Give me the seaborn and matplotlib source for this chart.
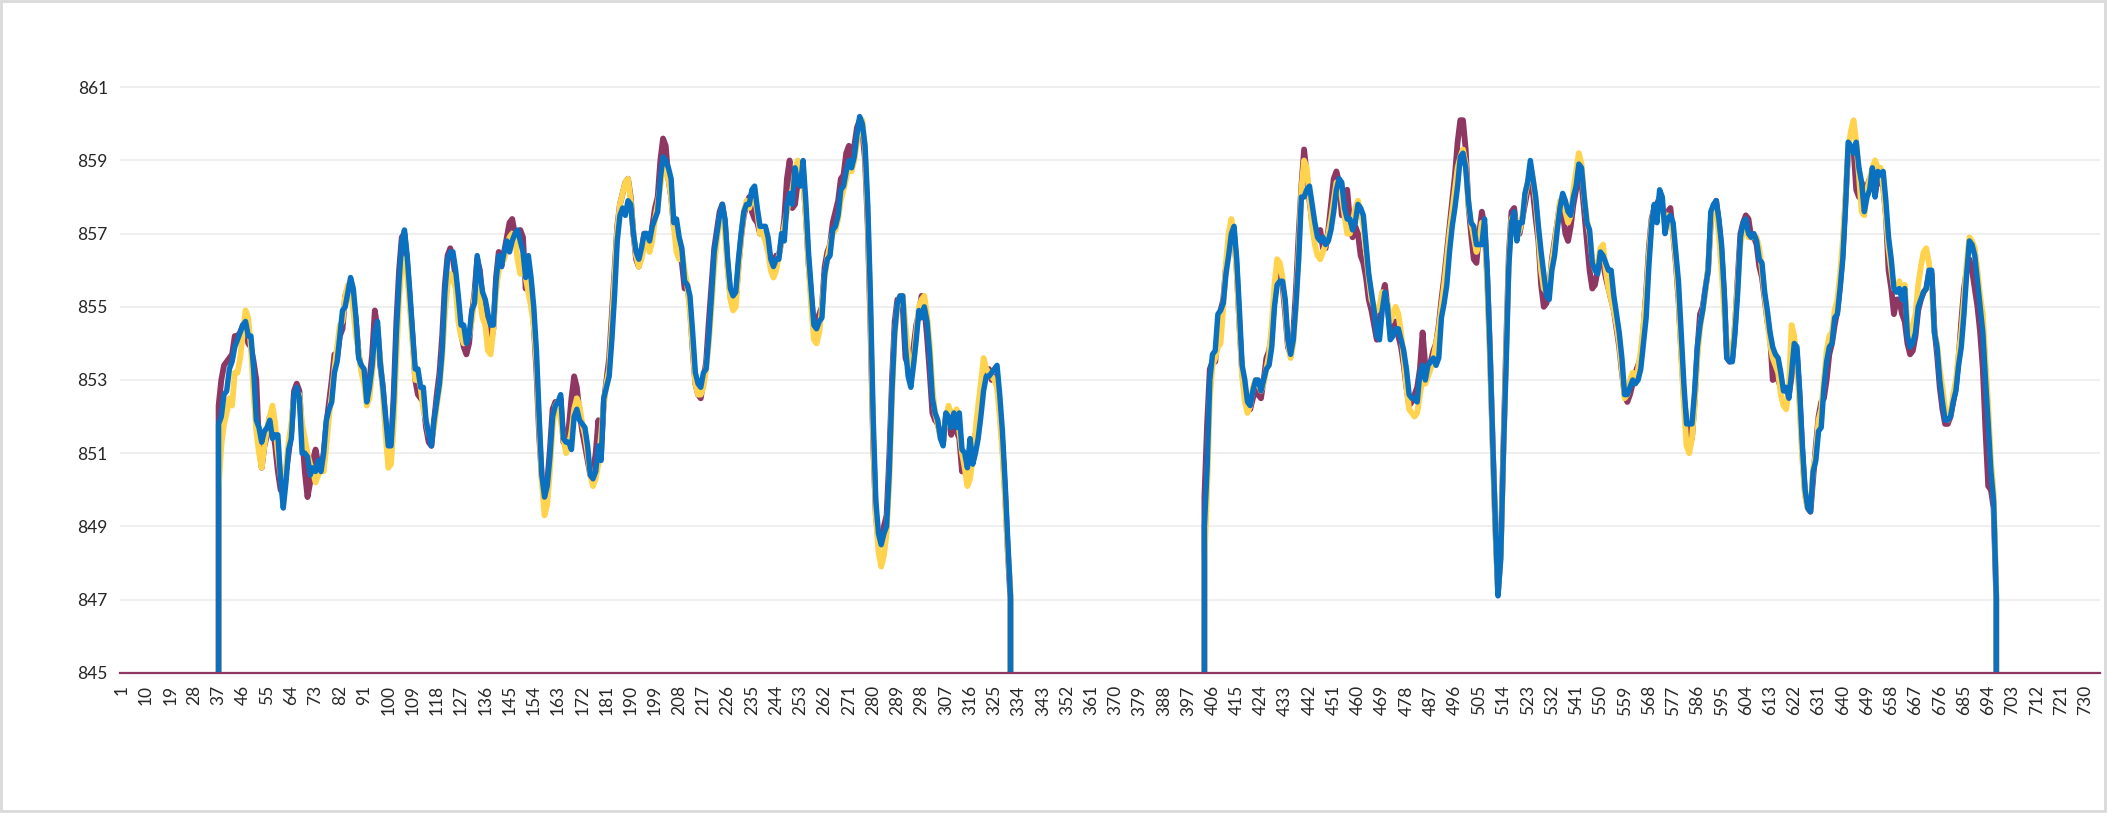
import matplotlib
matplotlib.use("Agg")
import matplotlib.pyplot as plt
import pandas as pd
import seaborn as sns
from matplotlib.patches import Rectangle

# values for rows 37..331 (first block) and 403..697 (second block), 0 elsewhere
maroon_a = [
    852.3, 853.0, 853.4, 853.5, 853.6, 853.7, 854.2, 854.2, 854.3, 854.5,
    854.3, 854.0, 853.9, 853.5, 853.0, 851.2, 850.6, 851.2, 851.5, 852.0,
    851.7, 851.2, 850.5, 850.0, 849.9, 850.5, 851.0, 851.6, 852.7, 852.9,
    852.7, 851.5, 850.5, 849.8, 850.2, 850.8, 851.1, 850.7, 850.5, 851.0,
    851.8, 852.4, 853.0, 853.7, 853.6, 854.2, 854.4, 855.3, 855.5, 855.6,
    855.2, 854.6, 853.7, 853.3, 853.1, 852.5, 853.0, 853.7, 854.9, 854.4,
    853.4, 852.8, 851.8, 851.0, 851.1, 852.6, 854.6, 856.0, 856.9, 857.0,
    856.2, 855.2, 854.2, 853.0, 852.6, 852.5, 852.4, 851.7, 851.3, 851.2,
    851.9, 852.6, 853.2, 854.2, 855.6, 856.4, 856.6, 856.3, 855.8, 855.0,
    854.3, 853.9, 853.7, 854.0, 854.8, 855.4, 856.3, 856.0, 855.2, 854.8,
    854.3, 854.0, 854.4, 855.8, 856.5, 856.1, 856.5, 856.9, 857.3, 857.4,
    857.0, 856.8, 857.1, 856.9, 855.5, 856.1, 855.6, 854.5, 853.2, 851.5,
    850.3, 849.9, 850.2, 851.1, 852.2, 852.4, 852.2, 852.5, 851.3, 851.5,
    851.7, 852.5, 853.1, 852.8, 852.1, 851.6, 851.2, 850.8, 850.4, 850.5,
    851.0, 851.9, 851.0, 852.4, 853.0, 853.6, 854.8, 856.0, 857.2, 857.8,
    858.1, 858.4, 858.5, 858.0, 857.0, 856.3, 856.1, 856.5, 857.0, 857.0,
    856.6, 857.2, 857.7, 858.0, 859.0, 859.6, 859.4, 858.5, 858.0, 857.2,
    857.0, 856.6, 856.2, 855.5, 855.6, 855.0, 853.8, 852.9, 852.6, 852.5,
    853.0, 853.5, 854.6, 855.6, 856.6, 857.1, 857.6, 857.8, 857.3, 856.1,
    855.3, 855.0, 855.2, 856.1, 856.9, 857.5, 857.8, 858.0, 857.6, 857.4,
    857.3, 857.0, 857.0, 856.9, 856.7, 856.2, 856.2, 856.4, 856.4, 856.8,
    857.4, 858.5, 859.0, 857.7, 857.8, 858.4, 858.8, 858.6, 857.5, 856.2,
    855.3, 854.5, 854.6, 854.8, 855.0, 856.1, 856.5, 856.7, 857.3, 857.6,
    857.9, 858.5, 858.6, 859.2, 859.4, 859.0, 859.4, 859.9, 860.1, 859.8,
    859.0, 857.2, 854.5, 851.3, 849.3, 848.6, 848.5, 849.0, 849.3, 850.9,
    853.0, 854.6, 855.2, 855.2, 855.0, 853.6, 853.4, 853.6, 853.9, 854.5,
    854.8, 855.3, 855.0, 854.2, 853.2, 852.1, 851.9, 851.8, 851.5, 851.3,
    852.0, 852.1, 851.5, 852.0, 851.6, 851.4, 850.5, 850.9, 850.8, 850.6,
    850.9, 851.5, 852.0, 852.5, 852.9, 853.2, 853.3, 853.0, 853.1, 853.0,
    852.2, 851.2, 849.9, 848.3, 847.0,
]
yellow_a = [
    850.0, 851.2, 851.8, 852.1, 852.5, 852.3, 853.2, 853.2, 853.6, 854.3,
    854.9, 854.7, 853.9, 852.6, 851.6, 851.0, 850.6, 851.2, 851.7, 852.0,
    852.3, 851.8, 851.0, 850.4, 849.9, 850.6, 851.3, 851.8, 852.5, 852.6,
    852.6, 851.8, 851.4, 851.0, 850.7, 850.5, 850.2, 850.4, 850.6, 850.5,
    851.2, 852.0, 852.6, 853.3, 853.9, 854.5, 854.6, 855.3, 855.6, 855.5,
    854.9, 854.2, 853.8, 853.2, 852.9, 852.3, 852.5, 853.2, 853.9, 854.4,
    853.6, 852.6, 851.5, 850.6, 850.7, 851.8, 853.6, 855.2, 856.2, 856.3,
    855.9, 855.0, 854.0, 853.0, 853.1, 852.8, 852.2, 851.9, 851.5, 851.4,
    851.7, 852.3, 852.8, 853.6, 854.8, 855.6, 855.9, 855.8, 855.5, 854.6,
    854.2, 854.0, 854.2, 854.2, 854.6, 855.3, 855.8, 855.2, 854.7, 854.5,
    853.8, 853.7, 854.4, 855.4, 856.0, 856.2, 856.3, 856.6, 856.9, 857.0,
    856.9, 856.3, 855.9, 856.4, 855.8, 855.4, 855.0, 854.5, 853.5, 851.8,
    850.2, 849.3, 849.6, 850.5, 851.7, 852.3, 852.4, 851.9, 851.4, 851.0,
    851.2, 851.6, 852.2, 852.5, 852.3, 851.8, 851.5, 851.0, 850.4, 850.1,
    850.3, 850.7, 851.5, 852.3, 852.9, 853.3, 854.5, 855.8, 857.1, 857.8,
    858.1, 858.4, 858.5, 857.9, 857.0, 856.4, 856.1, 856.3, 856.7, 857.0,
    856.5, 856.8, 857.4, 857.8, 858.3, 858.8, 858.7, 858.5, 858.0, 857.2,
    856.5, 856.3, 856.5, 856.0, 855.6, 854.8, 853.9, 852.9, 852.6, 852.6,
    852.8, 853.3, 854.0, 855.0, 856.1, 856.8, 857.4, 857.7, 857.0, 856.0,
    855.2, 854.9, 855.0, 856.0, 856.9, 857.6, 857.9, 857.7, 858.0, 858.0,
    857.6, 857.0, 857.0, 856.8, 856.5, 856.0, 855.8, 856.0, 856.4, 856.8,
    857.2, 857.6, 858.0, 858.2, 858.7, 859.0, 858.7, 858.4, 857.5, 856.2,
    855.0, 854.1, 854.0, 854.3, 855.0, 855.8, 856.3, 856.7, 857.0, 857.1,
    857.4, 857.9, 858.2, 858.5, 858.9, 858.7, 859.0, 859.5, 860.0, 860.1,
    859.3, 857.5, 854.8, 851.5, 849.3, 848.3, 847.9, 848.2, 848.8, 850.2,
    852.5, 854.2, 855.0, 855.3, 855.3, 854.5, 853.7, 853.2, 853.5, 854.3,
    855.0, 855.2, 855.3, 854.8, 854.0, 852.8, 852.1, 851.8, 851.4, 851.3,
    851.9, 852.3, 852.1, 851.8, 852.2, 851.6, 851.0, 850.6, 850.1, 850.3,
    850.9, 851.6, 852.3, 852.9, 853.6, 853.3, 853.2, 853.1, 853.0, 852.8,
    852.0, 851.0, 849.7, 848.3, 847.3,
]
blue_a = [
    851.8, 852.0, 852.6, 852.7, 853.3, 853.5, 853.9, 854.1, 854.3, 854.5,
    854.6, 854.2, 854.2, 853.3, 851.9, 851.7, 851.3, 851.6, 851.7, 851.9,
    851.4, 851.5, 851.5, 850.3, 849.5, 850.2, 851.1, 851.4, 852.6, 852.8,
    852.5, 851.0, 851.0, 850.9, 850.4, 850.6, 850.5, 850.8, 850.5, 851.0,
    851.9, 852.2, 852.4, 853.2, 853.5, 854.2, 854.9, 855.0, 855.4, 855.8,
    855.5, 854.7, 853.6, 853.4, 853.3, 852.4, 852.8, 853.4, 854.3, 854.6,
    853.5, 852.8, 852.0, 851.2, 851.2, 852.4, 854.3, 855.7, 856.8, 857.1,
    856.4, 855.4, 854.3, 853.3, 853.3, 852.8, 852.8, 851.9, 851.5, 851.2,
    851.9, 852.4, 852.9, 853.8, 855.4, 856.3, 856.5, 856.5, 856.0, 855.3,
    854.5, 854.5, 854.0, 854.2, 854.9, 855.1, 856.4, 855.9, 855.4, 855.2,
    854.8, 854.5, 854.5, 855.7, 856.4, 856.1, 856.5, 856.8, 856.5, 856.8,
    857.0, 857.1, 856.8, 856.5, 855.8, 856.4, 855.8, 855.0, 853.8, 852.0,
    850.4, 849.8, 850.1, 850.9, 852.0, 852.3, 852.4, 852.6, 851.4, 851.3,
    851.3, 851.1, 852.0, 852.2, 851.9, 851.8, 851.7, 851.2, 850.4, 850.3,
    850.5, 851.2, 850.8, 852.5, 852.8, 853.1, 854.1, 855.3, 856.8, 857.5,
    857.7, 857.5, 857.9, 857.8, 857.0, 856.5, 856.3, 856.6, 857.0, 857.0,
    856.8, 857.2, 857.4, 857.6, 858.5, 859.1, 859.0, 858.8, 858.5, 857.3,
    857.4, 856.9, 856.6, 855.7, 855.6, 855.3, 854.3, 853.2, 852.9, 852.8,
    853.2, 853.3, 854.2, 855.3, 856.5, 857.0, 857.5, 857.8, 857.4, 856.3,
    855.5, 855.3, 855.4, 856.3, 857.0, 857.6, 857.8, 857.8, 858.2, 858.3,
    857.7, 857.2, 857.2, 857.2, 856.9, 856.3, 856.1, 856.3, 856.3, 857.0,
    856.8, 857.8, 858.1, 857.8, 858.8, 858.4, 858.3, 859.0, 857.9, 856.5,
    855.5, 854.5, 854.4, 854.6, 854.7, 855.9, 856.3, 856.4, 857.1, 857.2,
    857.5, 858.2, 858.3, 858.7, 859.0, 858.8, 859.1, 859.7, 860.2, 860.0,
    859.4, 857.8, 855.3, 852.0, 849.7, 848.8, 848.5, 848.8, 849.0, 850.5,
    852.7, 854.3, 855.1, 855.3, 855.3, 853.9, 853.1, 852.8, 853.4, 854.1,
    854.9, 854.7, 855.0, 854.6, 853.7, 852.5, 852.1, 851.9, 851.4, 851.2,
    852.1, 852.0, 851.7, 852.1, 851.7, 852.1, 851.1, 851.0, 850.6, 851.4,
    850.7, 851.0, 851.4, 852.0, 852.7, 853.1, 853.1, 853.2, 853.3, 853.4,
    852.6, 851.6, 850.2, 848.6, 847.1,
]

maroon_b = [
    849.8, 851.8, 853.3, 853.5, 853.5, 854.3, 854.9, 855.2, 856.1, 856.6,
    857.0, 857.0, 856.0, 854.5, 853.2, 852.6, 852.2, 852.2, 852.5, 852.7,
    852.6, 852.5, 853.0, 853.6, 853.8, 854.2, 855.2, 855.9, 855.9, 855.6,
    854.8, 853.9, 853.7, 854.3, 855.5, 857.0, 858.3, 859.3, 858.6, 857.9,
    857.3, 857.0, 856.9, 857.1, 856.6, 856.6, 857.1, 857.8, 858.5, 858.7,
    858.4, 857.5, 857.8, 858.2, 857.4, 856.9, 857.2, 857.0, 856.4, 856.2,
    855.8, 855.2, 854.9, 854.5, 854.1, 854.6, 855.3, 855.6, 855.0, 854.3,
    854.4, 854.6, 854.2, 853.9, 853.4, 852.8, 852.3, 852.4, 852.6, 852.8,
    853.3, 854.3, 853.4, 853.2, 853.5, 853.8, 854.0, 854.5, 855.2, 855.8,
    856.5, 857.2, 857.9, 858.6, 859.5, 860.1, 860.1, 859.3, 857.8, 857.0,
    856.3, 856.2, 857.0, 857.6, 857.2, 855.8, 853.8, 851.3, 849.0, 847.2,
    848.3, 851.2, 853.9, 856.4, 857.6, 857.7, 857.0, 857.0, 857.4, 857.8,
    858.2, 858.3, 858.1, 857.4, 856.8, 855.6, 855.0, 855.1, 855.5, 856.3,
    856.8, 857.3, 857.8, 857.6, 857.0, 856.8, 857.2, 857.8, 858.2, 858.5,
    858.4, 857.6, 856.8, 856.0, 855.5, 855.6, 856.0, 856.4, 856.2, 855.8,
    855.5, 855.2, 854.9, 854.4, 853.9, 853.2, 852.6, 852.4, 852.6, 852.9,
    853.2, 853.4, 853.6, 854.4, 855.4, 856.6, 857.4, 857.7, 857.8, 858.0,
    857.7, 857.4, 857.6, 857.7, 857.0, 856.2, 855.2, 853.8, 852.5, 851.9,
    851.6, 851.4, 852.4, 853.8, 854.8, 855.0, 855.5, 856.0, 857.3, 857.6,
    857.9, 857.3, 856.5, 855.2, 853.6, 853.5, 853.6, 854.5, 855.8, 857.0,
    857.3, 857.5, 857.4, 856.9, 856.9, 856.7, 856.1, 855.8, 855.2, 854.6,
    854.2, 853.0, 853.1, 853.0, 852.8, 852.8, 852.7, 852.6, 853.1, 853.8,
    853.7, 852.5, 851.0, 849.9, 849.5, 849.4, 850.3, 851.2, 852.0, 852.4,
    852.5, 853.0, 853.7, 854.0, 854.5, 854.9, 855.6, 856.5, 857.9, 859.2,
    859.3, 859.3, 858.2, 858.0, 858.4, 857.9, 858.3, 858.5, 858.5, 858.1,
    858.5, 858.4, 858.3, 857.5, 856.0, 855.5, 854.8, 855.2, 855.2, 854.8,
    854.6, 854.0, 853.7, 853.8, 854.2, 854.9, 855.2, 855.4, 855.5, 855.9,
    855.9, 854.4, 853.7, 852.8, 852.2, 851.8, 851.8, 852.0, 852.4, 852.8,
    853.6, 854.6, 855.5, 856.0, 856.3, 856.0, 855.5, 855.0, 854.3, 853.3,
    851.6, 850.1, 850.0, 849.5, 847.0,
]
yellow_b = [
    848.0, 850.0, 852.5, 853.4, 853.6, 853.9, 854.0, 855.0, 856.2, 857.0,
    857.4, 857.0, 855.9, 854.5, 853.1, 852.4, 852.1, 852.3, 852.8, 853.0,
    852.9, 852.7, 852.9, 853.3, 853.7, 854.5, 855.6, 856.3, 856.2, 855.8,
    855.0, 854.0, 853.6, 854.0, 855.0, 856.5, 858.2, 859.0, 858.8, 858.0,
    857.2, 856.7, 856.4, 856.3, 856.5, 856.7, 857.0, 857.4, 857.9, 858.4,
    858.4, 858.0, 857.5, 857.0, 857.0, 857.3, 857.7, 857.9, 857.6, 857.2,
    856.5, 855.8, 855.2, 855.0, 854.9, 855.0, 855.4, 855.3, 855.1, 854.6,
    854.8, 855.0, 854.8, 854.3, 853.6, 852.8, 852.2, 852.1, 852.0, 852.1,
    852.6, 853.0, 852.9, 853.1, 853.3, 853.6, 854.0, 854.4, 855.0, 855.6,
    856.3, 857.0, 857.6, 858.2, 858.8, 859.1, 859.3, 858.9, 857.8, 857.3,
    856.9, 856.5, 856.8, 857.3, 857.2, 855.6, 853.6, 851.2, 848.9, 847.2,
    848.2, 851.0, 853.6, 856.2, 857.4, 857.5, 856.9, 857.1, 857.4, 858.0,
    858.4, 858.8, 858.5, 857.9, 857.0, 856.0, 855.5, 855.4, 855.6, 856.2,
    856.7, 857.3, 857.9, 857.9, 857.6, 857.3, 857.5, 858.2, 858.7, 859.2,
    858.9, 858.0, 857.4, 857.0, 856.3, 856.0, 856.1, 856.6, 856.7, 856.0,
    855.5, 855.2, 854.9, 854.5, 854.0, 853.3, 852.5, 852.6, 853.0, 853.2,
    853.0, 853.3, 853.8, 854.5, 855.3, 856.4, 857.3, 857.7, 857.5, 858.0,
    857.8, 857.3, 857.5, 857.3, 857.0, 856.3, 855.3, 853.7, 852.3, 851.2,
    851.0, 851.4, 852.3, 853.6, 854.4, 854.9, 855.4, 856.1, 857.3, 857.7,
    857.6, 857.0, 856.0, 854.8, 854.0, 853.6, 853.7, 854.6, 855.6, 856.7,
    857.1, 857.2, 856.9, 856.9, 856.9, 856.9, 856.6, 856.0, 855.3, 854.6,
    854.0, 853.6, 853.4, 853.2, 852.6, 852.3, 852.2, 852.8, 854.5, 854.2,
    853.5, 852.2, 850.8, 849.8, 849.5, 849.6, 850.6, 851.0, 851.9, 852.2,
    853.0, 853.8, 854.2, 854.3, 854.9, 855.2, 855.9, 856.8, 858.0, 859.3,
    859.8, 860.1, 859.5, 858.6, 857.6, 857.5, 858.2, 858.5, 858.8, 859.0,
    858.8, 858.8, 858.3, 857.5, 856.6, 856.0, 855.5, 855.5, 855.7, 855.4,
    855.6, 854.5, 854.2, 854.5, 854.8, 855.6, 856.1, 856.5, 856.6, 856.2,
    855.5, 854.3, 854.0, 853.3, 852.8, 852.2, 851.9, 852.1, 852.6, 853.0,
    853.7, 854.3, 855.2, 856.2, 856.9, 856.8, 856.6, 856.0, 855.3, 854.8,
    853.5, 852.3, 850.8, 849.9, 847.3,
]
blue_b = [
    849.0, 850.6, 853.0, 853.7, 853.8, 854.8, 854.9, 855.1, 855.9, 856.4,
    857.0, 857.2, 856.3, 854.9, 853.4, 853.0, 852.4, 852.3, 852.7, 853.0,
    853.0, 852.7, 853.0, 853.3, 853.4, 853.9, 855.0, 855.6, 855.7, 855.7,
    855.2, 854.1, 853.7, 854.1, 855.1, 856.3, 858.0, 858.0, 858.2, 858.3,
    857.8, 857.3, 856.9, 856.8, 856.9, 856.7, 856.8, 857.1, 857.6, 858.2,
    858.5, 858.4, 857.7, 857.4, 857.4, 857.1, 857.3, 857.8, 857.7, 857.5,
    856.7, 855.9, 855.4, 854.9, 854.2, 854.1, 854.9, 855.4, 855.0, 854.1,
    854.2, 854.4, 854.4, 854.1, 853.8, 853.3, 852.6, 852.5, 852.5, 852.4,
    853.2, 853.4, 853.0, 853.4, 853.5, 853.6, 853.4, 853.6, 854.7, 855.1,
    855.6, 856.5, 857.2, 857.7, 858.3, 859.1, 859.2, 858.8, 857.9, 857.3,
    857.2, 856.7, 856.7, 856.7, 857.4, 856.0, 853.9, 851.4, 849.1, 847.1,
    848.1, 851.0, 853.4, 856.1, 857.3, 857.6, 856.8, 857.3, 857.3, 858.1,
    858.4, 859.0, 858.5, 858.0, 857.2, 856.5, 855.9, 855.3, 855.2, 856.0,
    856.4, 857.1, 857.7, 858.1, 857.9, 857.6, 857.5, 858.0, 858.3, 858.9,
    858.8, 858.0, 857.3, 857.1, 856.2, 856.0, 855.9, 856.5, 856.4, 856.2,
    856.0, 856.0, 855.3, 854.8, 854.3, 853.6, 852.6, 852.6, 852.8, 853.0,
    852.9, 853.0, 853.3, 854.0, 854.7, 856.1, 857.2, 857.8, 857.3, 858.2,
    858.0, 857.0, 857.4, 857.5, 857.3, 856.5, 855.7, 854.3, 852.9, 851.8,
    851.8, 851.8, 852.7, 853.9, 854.5, 854.9, 855.5, 856.0, 857.6, 857.8,
    857.9, 857.4, 856.7, 855.4, 853.6, 853.5, 853.5, 854.3, 855.4, 856.9,
    857.3, 857.4, 857.0, 856.9, 857.0, 856.8, 856.3, 856.2, 855.4, 854.9,
    854.3, 853.9, 853.7, 853.6, 853.2, 852.7, 852.8, 852.5, 853.2, 854.0,
    853.9, 852.7, 851.2, 850.0, 849.5, 849.4, 850.5, 850.8, 851.6, 851.7,
    852.8, 853.5, 853.9, 854.0, 854.7, 854.8, 855.5, 856.3, 857.7, 859.5,
    859.4, 859.2, 859.5, 858.8, 858.4, 857.6, 858.0, 858.2, 858.8, 858.0,
    858.7, 858.6, 858.7, 857.9, 856.9, 856.3, 855.5, 855.4, 855.5, 855.2,
    855.5, 854.2, 853.9, 854.0, 854.3, 855.0, 855.2, 855.4, 855.5, 856.0,
    856.0, 854.3, 853.9, 853.0, 852.4, 851.9, 851.9, 852.0, 852.4, 852.7,
    853.4, 853.9, 854.8, 855.9, 856.8, 856.7, 856.4, 855.7, 855.0, 854.3,
    853.0, 851.8, 850.5, 849.7, 847.1,
]

x = list(range(1, 736))
x_ticks = list(range(1, 736, 9))
y_ticks = [845, 847, 849, 851, 853, 855, 857, 859, 861]

colors = {"maroon": "#8e3763", "yellow": "#ffd34e", "blue": "#0a70c0"}
widths = {"maroon": 4.2, "yellow": 4.2, "blue": 3.9}


def full_series(a, b):
    # zeros outside the two recorded blocks
    return [0.0] * 36 + a + [0.0] * 71 + b + [0.0] * 38


df = pd.DataFrame({
    "x": x * 3,
    "value": full_series(maroon_a, maroon_b)
    + full_series(yellow_a, yellow_b)
    + full_series(blue_a, blue_b),
    "series": ["maroon"] * 735 + ["yellow"] * 735 + ["blue"] * 735,
})

sns.set_style("white")
plt.rcParams["font.family"] = ["Lato", "DejaVu Sans"]

fig = plt.figure(figsize=(21.08, 8.26), dpi=100)
ax = fig.add_axes([120.3 / 2108, 153.3 / 826, (2100 - 120.3) / 2108, 622 / 826])

sns.lineplot(
    data=df, x="x", y="value", hue="series",
    hue_order=["maroon", "yellow", "blue"], palette=colors,
    linewidth=4.0, legend=False, ax=ax, estimator=None,
)
for line, name in zip(ax.lines, ["maroon", "yellow", "blue"]):
    line.set_linewidth(widths[name])
    line.set_solid_joinstyle("round")
    line.set_solid_capstyle("round")

ax.set_xlim(0.5, 735.5)
ax.set_ylim(845, 862.0)
ax.set_xticks(x_ticks)
ax.set_xticklabels([str(t) for t in x_ticks], rotation=90)
ax.set_yticks(y_ticks)
ax.set_yticklabels([str(t) for t in y_ticks])
ax.tick_params(axis="both", length=0, labelsize=12.5, colors="#262626", pad=9)
ax.set_xlabel("")
ax.set_ylabel("")

ax.yaxis.grid(True, color="#efefef", linewidth=1.4)
ax.xaxis.grid(False)
ax.set_axisbelow(True)
for side in ["top", "left", "right"]:
    ax.spines[side].set_visible(False)
ax.spines["bottom"].set_color("#8e3763")
ax.spines["bottom"].set_linewidth(1.6)
ax.spines["bottom"].set_zorder(5)

# light frame around the chart area
fig.patches.append(Rectangle(
    (1 / 2108, 15 / 826), 2104 / 2108, 810 / 826,
    transform=fig.transFigure, fill=False, edgecolor="#d9d9d9", linewidth=2,
))

fig.savefig("out.png", dpi=100, facecolor="white")
